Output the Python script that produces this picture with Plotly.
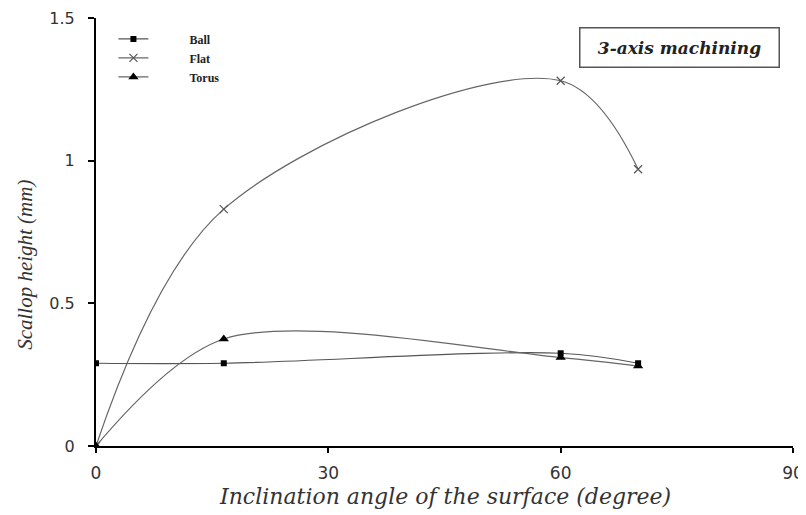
import plotly.graph_objects as go

angles = [0, 16.5, 60, 70]
ball = [0.29, 0.29, 0.325, 0.29]
flat = [0.0, 0.83, 1.28, 0.97]
torus = [0.0, 0.375, 0.31, 0.28]

x_ticks = [0, 30, 60, 90]
y_ticks = [0, 0.5, 1, 1.5]
y_tick_text = ["0", "0.5", "1", "1.5"]

pad = "\u00a0" * 12

fig = go.Figure()
fig.add_trace(go.Scatter(
    x=angles, y=ball, name=pad + "Ball", mode="lines+markers",
    line=dict(color="#555555", width=1.2, shape="spline", smoothing=1.0),
    marker=dict(symbol="square", size=6, color="black")))
fig.add_trace(go.Scatter(
    x=angles, y=flat, name=pad + "Flat", mode="lines+markers",
    line=dict(color="#666666", width=1.2, shape="spline", smoothing=1.0),
    marker=dict(symbol="x-thin", size=8, line=dict(color="#555555", width=1.2))))
fig.add_trace(go.Scatter(
    x=angles, y=torus, name=pad + "Torus", mode="lines+markers",
    line=dict(color="#666666", width=1.2, shape="spline", smoothing=0.9),
    marker=dict(symbol="triangle-up", size=9, color="black")))

# page body has an 8px margin, so the figure is shrunk by 8px and margins compensated
fig.update_layout(
    width=798, height=507,
    margin=dict(l=88, r=13, t=10, b=69, autoexpand=False),
    paper_bgcolor="white", plot_bgcolor="white",
    showlegend=True,
    legend=dict(x=0.025, y=0.985, xanchor="left", yanchor="top",
                bgcolor="rgba(0,0,0,0)",
                font=dict(family="Liberation Serif", size=12, color="#222222", weight="bold"),
                itemwidth=30, tracegroupgap=4),
    annotations=[
        dict(text="<b><i>3-axis machining</i></b>", xref="paper", yref="paper",
             x=0.981, y=0.979, xanchor="right", yanchor="top", showarrow=False,
             width=190, height=30,
             font=dict(family="DejaVu Serif", size=17, color="#222222"),
             bordercolor="#555555", borderwidth=1.5, borderpad=4, bgcolor="white"),
        dict(text="<i>Inclination angle of the surface (degree)</i>",
             xref="paper", yref="paper", x=0.5, y=-0.119,
             xanchor="center", yanchor="middle", showarrow=False,
             font=dict(family="DejaVu Serif", size=22, color="#333333")),
        dict(text="<i>Scallop height (mm)</i>",
             xref="paper", yref="paper", x=-0.102, y=0.423, textangle=-90,
             xanchor="center", yanchor="middle", showarrow=False,
             font=dict(family="Liberation Serif", size=21, color="#333333")),
    ],
)
fig.update_xaxes(
    range=[0, 90], tickvals=x_ticks, showgrid=False, zeroline=False,
    automargin=False,
    showline=True, linecolor="black", linewidth=2,
    ticks="outside", ticklen=5, tickcolor="black", tickwidth=1.5,
    ticklabelstandoff=6,
    tickfont=dict(family="DejaVu Sans", size=17, color="#333333"))
fig.update_yaxes(
    range=[0, 1.5], tickvals=y_ticks, ticktext=y_tick_text,
    showgrid=False, zeroline=False,
    automargin=False,
    showline=True, linecolor="black", linewidth=2,
    ticks="outside", ticklen=6, tickcolor="black", tickwidth=1.5,
    ticklabelstandoff=10,
    tickfont=dict(family="DejaVu Sans", size=16, color="#333333"))

fig.write_html("out.html")
